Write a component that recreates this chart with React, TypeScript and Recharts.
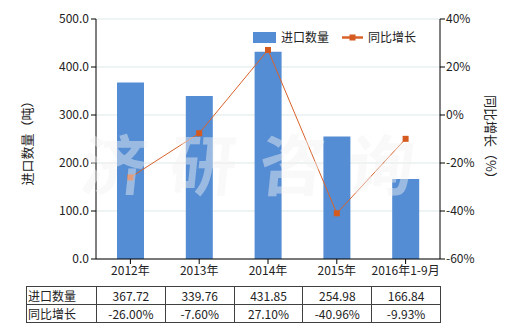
import React from 'react';
import { ComposedChart, Bar, Line, XAxis, YAxis, CartesianGrid } from 'recharts';

const categories = ['2012年', '2013年', '2014年', '2015年', '2016年1-9月'];
const importQty = [367.72, 339.76, 431.85, 254.98, 166.84];
const yoyGrowth = [-26.0, -7.6, 27.1, -40.96, -9.93];
const leftTicks = [0, 100, 200, 300, 400, 500];
const rightTicks = [-60, -40, -20, 0, 20, 40];
const seriesNames = ['进口数量', '同比增长'];
const axisTitles = ['进口数量（吨）', '同比增长（%）'];
const watermark = '济研咨询';

const data = categories.map((c, i) => ({ name: c, qty: importQty[i], yoy: yoyGrowth[i] }));

const BAR = '#548DD4';
const LINE = '#D9622B';
const MARK = '#D55A1F';
const FONT = '"Noto Sans CJK SC", "Microsoft YaHei", sans-serif';
const TXT = '#222';

const SquareDot = (props: any) => {
  const { cx, cy, index } = props;
  return <rect key={'d' + index} x={cx - 3} y={cy - 3} width={6} height={6} fill={MARK} />;
};

const LegendContent = () => (
  <div style={{ position: 'absolute', left: 253, top: 31, width: 200, height: 14, fontFamily: FONT, fontSize: 12, color: TXT }}>
    <div style={{ position: 'absolute', left: 0, top: 1, width: 23, height: 11, background: BAR }} />
    <div style={{ position: 'absolute', left: 28, top: -2, lineHeight: '16px' }}>{seriesNames[0]}</div>
    <svg style={{ position: 'absolute', left: 89, top: 0 }} width={22} height={14}>
      <line x1={0} y1={6.5} x2={21} y2={6.5} stroke={LINE} strokeWidth={2.5} />
      <rect x={7.5} y={3.5} width={6} height={6} fill={MARK} />
    </svg>
    <div style={{ position: 'absolute', left: 115, top: -2, lineHeight: '16px' }}>{seriesNames[1]}</div>
  </div>
);

const colW = 68.8;
const cellBorder = '1px solid #404040';

export default function App() {
  return (
    <div style={{ position: 'absolute', left: 0, top: 0, width: 520, height: 330, background: '#fff', fontFamily: FONT }}>
      <ComposedChart width={520} height={330} data={data} margin={{ top: 19, right: 0, bottom: 0, left: 0 }}>
        <CartesianGrid horizontal vertical={false} stroke="#dde8e8" yAxisId="left" />
        <XAxis
          dataKey="name"
          height={71}
          axisLine={{ stroke: '#000' }}
          tickLine={{ stroke: '#000' }}
          tickSize={5}
          tick={{ fill: TXT, fontSize: 12, fontFamily: FONT }}
          interval={0}
        />
        <YAxis
          yAxisId="left"
          orientation="left"
          width={96}
          domain={[0, 500]}
          ticks={leftTicks}
          tickFormatter={(v: number) => v.toFixed(1)}
          axisLine={{ stroke: '#000' }}
          tickLine={{ stroke: '#000' }}
          tickSize={5}
          tickMargin={2}
          tick={{ fill: TXT, fontSize: 12, fontFamily: FONT }}
        />
        <YAxis
          yAxisId="right"
          orientation="right"
          width={80}
          domain={[-60, 40]}
          ticks={rightTicks}
          tickFormatter={(v: number) => v + '%'}
          axisLine={{ stroke: '#000' }}
          tickLine={{ stroke: '#000' }}
          tickSize={5}
          tickMargin={1}
          tick={{ fill: TXT, fontSize: 12, fontFamily: FONT }}
        />
        <Bar yAxisId="left" dataKey="qty" name={seriesNames[0]} fill={BAR} barSize={27} isAnimationActive={false} />
        <Line
          yAxisId="right"
          dataKey="yoy"
          name={seriesNames[1]}
          stroke={LINE}
          strokeWidth={1}
          dot={SquareDot}
          activeDot={false}
          isAnimationActive={false}
        />
      </ComposedChart>
      <LegendContent />
      <svg width={520} height={330} style={{ position: 'absolute', left: 0, top: 0, pointerEvents: 'none' }}>
        <text
          x={259}
          y={190}
          textAnchor="middle"
          fontSize={66}
          fontWeight="bold"
          letterSpacing={23}
          fill="#f2f2f2"
          fillOpacity={0.45}
          fontFamily={FONT}
          transform="skewX(-6) translate(18,0)"
        >
          {watermark}
        </text>
        <text
          transform="translate(32,140) rotate(-90)"
          textAnchor="middle"
          fontSize={13}
          fill={TXT}
          fontFamily={FONT}
        >
          {axisTitles[0]}
        </text>
        <text
          transform="translate(486,140) rotate(90)"
          textAnchor="middle"
          fontSize={13}
          fill={TXT}
          fontFamily={FONT}
        >
          {axisTitles[1]}
        </text>
      </svg>
      <table
        style={{
          position: 'absolute',
          left: 26,
          top: 286,
          borderCollapse: 'collapse',
          tableLayout: 'fixed',
          fontSize: 12,
          color: TXT,
          fontFamily: FONT,
        }}
      >
        <colgroup>
          <col style={{ width: 70 }} />
          {categories.map((c) => (
            <col key={c} style={{ width: colW }} />
          ))}
        </colgroup>
        <tbody>
          <tr style={{ height: 18 }}>
            <td style={{ border: cellBorder, padding: '0 1px', lineHeight: '16px', textAlign: 'left' }}>{seriesNames[0]}</td>
            {importQty.map((v, i) => (
              <td key={i} style={{ border: cellBorder, padding: 0, lineHeight: '16px', textAlign: 'center' }}>
                {v.toFixed(2)}
              </td>
            ))}
          </tr>
          <tr style={{ height: 18 }}>
            <td style={{ border: cellBorder, padding: '0 1px', lineHeight: '16px', textAlign: 'left' }}>{seriesNames[1]}</td>
            {yoyGrowth.map((v, i) => (
              <td key={i} style={{ border: cellBorder, padding: 0, lineHeight: '16px', textAlign: 'center' }}>
                {v.toFixed(2) + '%'}
              </td>
            ))}
          </tr>
        </tbody>
      </table>
    </div>
  );
}
